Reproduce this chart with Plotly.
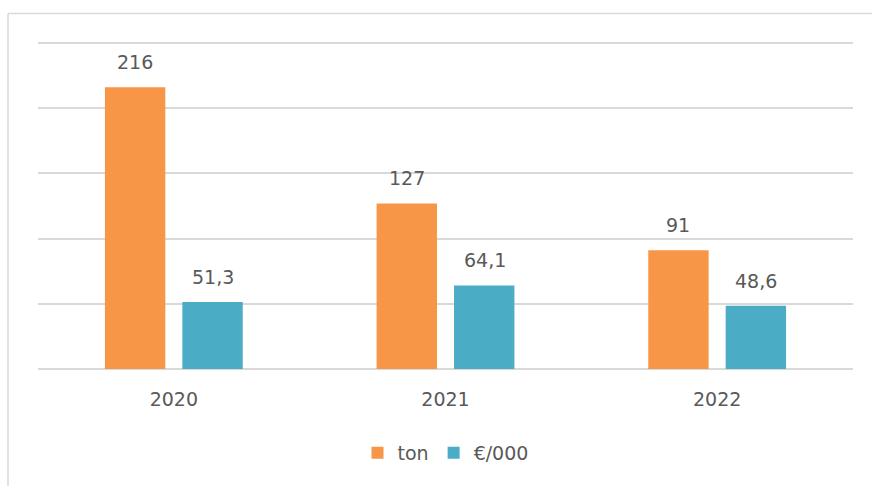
import plotly.graph_objects as go

years = ["2020", "2021", "2022"]
ton = [216, 127, 91]
eur = [51.3, 64.1, 48.6]
series_names = ["ton", "€/000"]
colors = ["#F79646", "#4BACC6"]

def fmt(v):
    return f"{v:g}".replace(".", ",")

FONT = "DejaVu Sans"
TXT = "#595959"
GRID = "#D9D9D9"

fig = go.Figure()
for name, vals, col in zip(series_names, [ton, eur], colors):
    fig.add_trace(go.Bar(x=years, y=vals, name=name, marker_color=col,
                         marker_line_width=0, hoverinfo="skip"))

# data labels above bars (category index used as x position)
for vals, shift in zip([ton, eur], [-39, 39]):
    for i, v in enumerate(vals):
        fig.add_annotation(x=i, y=v, xref="x", yref="y", text=fmt(v),
                           showarrow=False, yanchor="bottom", yshift=12,
                           xshift=shift, font=dict(family=FONT, size=19, color=TXT))

L, R, T, B = 38, 19, 37, 117
W, H = 872, 486
pw, ph = W - L - R, H - T - B
YMAX = ph / (326 / 250)

def px2x(px):
    return (px - L) / pw

def py2y(py):
    return (H - B - py) / ph

# outer chart frame (partially visible)
fig.add_shape(type="line", xref="paper", yref="paper",
              x0=px2x(8), x1=px2x(900), y0=py2y(13.5), y1=py2y(13.5),
              line=dict(color=GRID, width=1.5))
fig.add_shape(type="line", xref="paper", yref="paper",
              x0=px2x(8), x1=px2x(8), y0=py2y(13.5), y1=py2y(520),
              line=dict(color=GRID, width=1.5))

fig.update_layout(
    width=W, height=H,
    margin=dict(l=L, r=R, t=T, b=B, autoexpand=False),
    paper_bgcolor="white", plot_bgcolor="white",
    barmode="group", bargap=0.43, bargroupgap=0.22,
    font=dict(family=FONT, size=19, color=TXT),
    showlegend=True,
    legend=dict(orientation="h", x=0.5, xanchor="center", y=py2y(453),
                yanchor="middle", font=dict(family=FONT, size=19, color=TXT),
                traceorder="normal"),
    xaxis=dict(type="category", range=[-0.5, 2.5], showgrid=False, showline=False,
               zeroline=False, ticks="outside", ticklen=13,
               tickcolor="rgba(0,0,0,0)", automargin=False,
               tickfont=dict(family=FONT, size=19, color=TXT)),
    yaxis=dict(range=[0, YMAX], tickvals=[0, 50, 100, 150, 200, 250],
               showgrid=True, gridcolor=GRID,
               gridwidth=1.5, showticklabels=False, zeroline=True,
               zerolinecolor=GRID, zerolinewidth=1.5, showline=False,
               automargin=False),
)

fig.write_html("out.html", config={"displayModeBar": False},
               post_script="document.body.style.margin='0';")
